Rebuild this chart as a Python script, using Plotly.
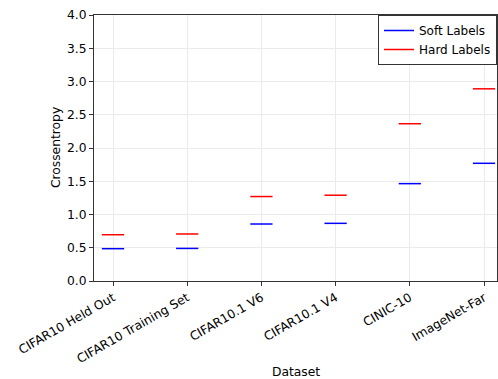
import plotly.graph_objects as go

datasets = ["CIFAR10 Held Out", "CIFAR10 Training Set", "CIFAR10.1 V6",
            "CIFAR10.1 V4", "CINIC-10", "ImageNet-Far"]
soft = [0.486, 0.49, 0.857, 0.867, 1.464, 1.77]
hard = [0.696, 0.707, 1.27, 1.29, 2.365, 2.89]
yticks = [0.0, 0.5, 1.0, 1.5, 2.0, 2.5, 3.0, 3.5, 4.0]

half = 0.15

def segs(vals):
    xs, ys = [], []
    for i, v in enumerate(vals):
        xs += [i - half, i + half, None]
        ys += [v, v, None]
    return xs, ys

fig = go.Figure()
for name, vals, col in [("Soft Labels", soft, "blue"), ("Hard Labels", hard, "red")]:
    xs, ys = segs(vals)
    fig.add_trace(go.Scatter(x=xs, y=ys, mode="lines", name=name,
                             line=dict(color=col, width=1.5)))

font = "DejaVu Sans"
fs = 12.3
fig.update_layout(
    width=498, height=379,
    margin=dict(l=94, r=1, t=15, b=98, autoexpand=False),
    plot_bgcolor="white", paper_bgcolor="white",
    font=dict(family=font, size=fs, color="black"),
    legend=dict(x=1.0, y=1.0, xanchor="right", yanchor="top",
                bgcolor="white", bordercolor="#333", borderwidth=1,
                font=dict(size=12), tracegroupgap=0, itemwidth=30),
    xaxis=dict(range=[-0.256, 5.175], tickvals=list(range(len(datasets))),
               ticktext=datasets, tickangle=-30, showgrid=True, automargin=False,
               gridcolor="#ebebeb", showline=True, linecolor="#333", mirror=True,
               ticks="outside", ticklen=4, tickcolor="#333", zeroline=False),
    yaxis=dict(range=[0, 4], tickvals=yticks, automargin=False,
               ticktext=[f"{t:.1f}" for t in yticks], showgrid=True,
               gridcolor="#ebebeb", showline=True, linecolor="#333", mirror=True,
               ticks="outside", ticklen=4, tickcolor="#333", zeroline=False),
    annotations=[
        dict(text="Dataset", xref="paper", yref="paper", x=0.5, y=-0.342,
             xanchor="center", yanchor="middle", showarrow=False,
             font=dict(size=fs)),
        dict(text="Crossentropy", xref="paper", yref="paper", x=-0.094, y=0.5,
             xanchor="center", yanchor="middle", showarrow=False, textangle=-90,
             font=dict(size=fs)),
    ],
)
fig.write_html(
    "out.html",
    config={"displayModeBar": False},
    post_script="document.body.style.margin='0';document.body.style.overflow='hidden';",
)
